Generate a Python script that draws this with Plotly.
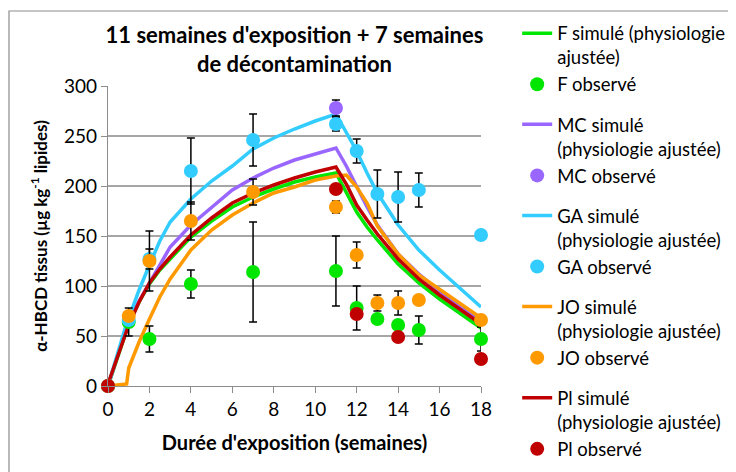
import plotly.graph_objects as go

# ---------------- data ----------------
sim_weeks = [0, 0.5, 0.9, 1, 1.5, 2, 2.5, 3, 4, 5, 6, 7, 8, 9, 10, 11, 11.5, 12, 12.5, 13, 14, 15, 16, 17, 18]
F_sim  = [0, 32, 56, 62, 84, 102, 116, 127, 149, 165, 179, 189, 197, 204, 209, 213, 193, 174, 159, 146, 122, 103, 87, 73, 58]
MC_sim = [0, 34, 60, 66, 85, 103, 122, 139, 161, 179, 196, 208, 218, 226, 232, 238, 220, 200, 179, 161, 132, 112, 95, 80, 65]
GA_sim = [0, 36, 63, 68, 96, 121, 145, 164, 187, 205, 220, 237, 248, 257, 265, 272, 254, 235, 213, 193, 161, 136, 116, 97, 79]
JO_sim = [0, 1, 2, 18, 44, 67, 89, 107, 136, 156, 171, 183, 193, 199, 206, 210, 211, 199, 183, 160, 132, 111, 97, 83, 68]
Pl_sim = [2, 32, 56, 61, 84, 103, 117, 129, 151, 168, 183, 193, 201, 208, 214, 219, 202, 181, 166, 152, 127, 107, 91, 77, 62]

obs_weeks = [0, 1, 2, 4, 7, 11, 12, 13, 14, 15, 18]
F_obs  = [0, 64, 47, 102, 114, 115, 78, 67, 61, 56, 47]
F_err  = [0, 14, 13, 14, 50, 35, 22, 0, 0, 14, 12]
GA_obs = [0, 66, 127, 215, 246, 262, 235, 192, 189, 196, 151]
GA_err = [0, 0, 10, 33, 26, 7, 12, 24, 25, 17, 0]
JO_obs = [0, 70, 125, 165, 194, 179, 131, 83, 83, 86, 66]
JO_err = [0, 0, 30, 19, 13, 6, 13, 8, 12, 0, 0]

MC_weeks = [0, 11]
MC_obs = [0, 278]
MC_err = [0, 8]

Pl_weeks = [0, 11, 12, 14, 18]
Pl_obs = [0, 197, 72, 49, 27]
Pl_err = [0, 0, 0, 0, 0]

names_sim = ["F simulé (physiologie<br>ajustée)", "MC simulé<br>(physiologie ajustée)",
             "GA simulé<br>(physiologie ajustée)", "JO simulé<br>(physiologie ajustée)",
             "Pl simulé<br>(physiologie ajustée)"]
names_obs = ["F observé", "MC observé", "GA observé", "JO observé", "Pl observé"]
groups = ["F", "MC", "GA", "JO", "Pl"]
colors = ["#00E600", "#9966FF", "#33CCFF", "#FF9900", "#C00000"]

sims = [F_sim, MC_sim, GA_sim, JO_sim, Pl_sim]
obs = [(obs_weeks, F_obs, F_err), (MC_weeks, MC_obs, MC_err), (obs_weeks, GA_obs, GA_err),
       (obs_weeks, JO_obs, JO_err), (Pl_weeks, Pl_obs, Pl_err)]

FONT = "Lato"
W, H = 728, 464          # page shows the figure offset by the body margin
L, T = 100, 78
PW, PH = 373, 300

fig = go.Figure()

for name, g, c, y in zip(names_sim, groups, colors, sims):
    fig.add_trace(go.Scatter(x=sim_weeks, y=y, mode="lines", name=name, legendgroup=g,
                             line=dict(color=c, width=3.5)))

for name, g, c, (xw, yv, err) in zip(names_obs, groups, colors, obs):
    fig.add_trace(go.Scatter(x=xw, y=yv, mode="markers", name=name, legendgroup=g,
                             marker=dict(color=c, size=14),
                             cliponaxis=False,
                             error_y=dict(type="data", array=err, visible=True,
                                          color="black", thickness=1.5, width=4)))

fig.update_layout(
    template="none",
    width=W, height=H, autosize=False,
    margin=dict(l=L, r=W - L - PW, t=T, b=H - T - PH, pad=0, autoexpand=False),
    paper_bgcolor="white", plot_bgcolor="white",
    font=dict(family=FONT, color="black"),
    title=dict(text="11 semaines d'exposition + 7 semaines<br>de décontamination",
               font=dict(family=FONT, size=22, weight="bold"),
               x=0.5, xref="paper", xanchor="center",
               y=1 - 35 / H, yref="container", yanchor="middle", automargin=False),
    legend=dict(x=1.097, y=1.238, xanchor="left", yanchor="top", valign="top",
                font=dict(family=FONT, size=18.5), traceorder="grouped",
                tracegroupgap=13, bgcolor="rgba(0,0,0,0)", maxheight=470),
    showlegend=True,
)

fig.update_xaxes(range=[0, 18], dtick=2, tick0=0, showgrid=False, zeroline=False,
                 automargin=False,
                 showline=True, linecolor="#8C8C8C", linewidth=1.2,
                 ticks="outside", ticklen=6, tickcolor="#8C8C8C",
                 tickfont=dict(family=FONT, size=19),
                 title=dict(text="Durée d'exposition (semaines)",
                            font=dict(family=FONT, size=20, weight="bold"), standoff=17))
fig.update_yaxes(range=[0, 300], dtick=50, tick0=0, showgrid=True, gridcolor="#A6A6A6",
                 gridwidth=1.5, zeroline=False, automargin=False,
                 showline=True, linecolor="#8C8C8C", linewidth=1.2,
                 ticks="outside", ticklen=6, tickcolor="#8C8C8C",
                 tickfont=dict(family=FONT, size=19),
                 title=dict(text="α-HBCD tissus (µg kg<sup>-1</sup> lipides)",
                            font=dict(family=FONT, size=17, weight="bold"), standoff=12))

# outer chart border
fig.add_shape(type="rect", xref="paper", yref="paper",
              x0=(1 - L) / PW, x1=1.75, y0=-0.35, y1=(PH + T - 3) / PH,
              line=dict(color="#8C8C8C", width=1.2), fillcolor="rgba(0,0,0,0)", layer="below")

fig.write_html("out.html")
